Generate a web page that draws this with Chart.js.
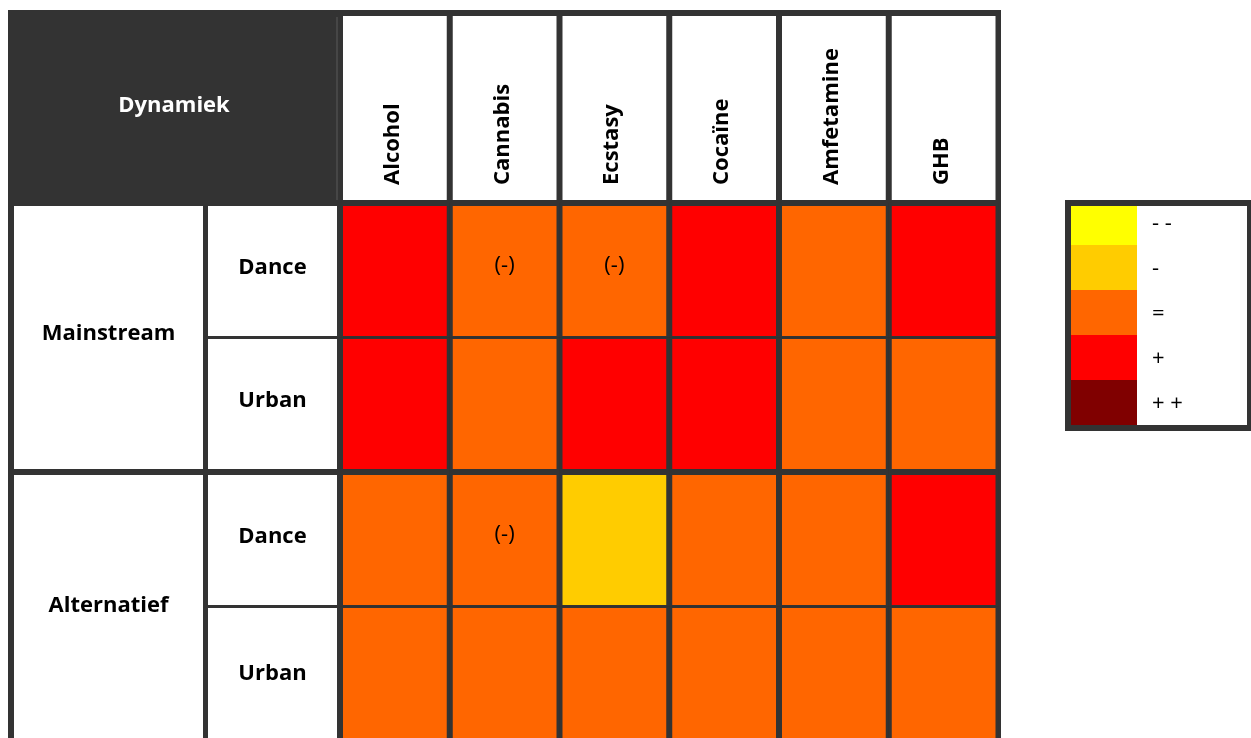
<!DOCTYPE html>
<html>
<head>
<meta charset="utf-8">
<script src="https://cdn.jsdelivr.net/npm/chart.js@4.4.1/dist/chart.umd.min.js"></script>
<style>
html,body{margin:0;padding:0;background:#fff;overflow:hidden;width:1251px;height:738px}
canvas{display:block}
</style>
</head>
<body>
<canvas id="c" width="1251" height="745"></canvas>
<script>
// ---- data ----
const title = 'Dynamiek';
const drugs = ['Alcohol', 'Cannabis', 'Ecstasy', 'Cocaïne', 'Amfetamine', 'GHB'];
const groups = ['Mainstream', 'Alternatief'];
const scenes = ['Dance', 'Urban'];
const levelLabels = ['- -', '-', '=', '+', '+ +'];
const levelColors = ['#FFFF00', '#FFCC00', '#FF6600', '#FF0000', '#800000'];
// level index per drug: 0 = '- -', 1 = '-', 2 = '=', 3 = '+', 4 = '+ +'
const mainstreamDance = [3, 2, 2, 3, 2, 3];
const mainstreamUrban = [3, 2, 3, 3, 2, 2];
const alternatiefDance = [2, 2, 1, 2, 2, 3];
const alternatiefUrban = [2, 2, 2, 2, 2, 2];
const mainstreamDanceNotes = ['', '(-)', '(-)', '', '', ''];
const mainstreamUrbanNotes = ['', '', '', '', '', ''];
const alternatiefDanceNotes = ['', '(-)', '', '', '', ''];
const alternatiefUrbanNotes = ['', '', '', '', '', ''];

const rows = [
  {group: 0, scene: 0, levels: mainstreamDance, notes: mainstreamDanceNotes},
  {group: 0, scene: 1, levels: mainstreamUrban, notes: mainstreamUrbanNotes},
  {group: 1, scene: 0, levels: alternatiefDance, notes: alternatiefDanceNotes},
  {group: 1, scene: 1, levels: alternatiefUrban, notes: alternatiefUrbanNotes}
];

const DARK = '#333333';
const FONT = '"Open Sans", "Noto Sans", sans-serif';

const datasets = rows.map((r, i) => ({
  label: groups[r.group] + ' ' + scenes[r.scene],
  data: drugs.map(() => 1),
  backgroundColor: r.levels.map(l => levelColors[l]),
  borderColor: DARK,
  borderWidth: {
    top: r.scene === 0 ? 3 : 1.5,
    bottom: r.scene === 0 ? 1.5 : (i === rows.length - 1 ? 0 : 3),
    left: 3,
    right: 3
  },
  borderSkipped: false,
  inflateAmount: 0,
  barPercentage: 1,
  categoryPercentage: 1
}));

const tablePlugin = {
  id: 'table',
  beforeDraw(chart) {
    const ctx = chart.ctx;
    const area = chart.chartArea;
    const xs = chart.scales.x, ys = chart.scales.y;
    const band = (area.right - area.left) / drugs.length;
    const H = chart.height;
    ctx.save();
    ctx.fillStyle = DARK;
    ctx.fillRect(8, 10, area.right + 2.5 - 8, H - 10);
    // column header cells
    ctx.fillStyle = '#fff';
    drugs.forEach((d, i) => {
      const cx = xs.getPixelForValue(i);
      ctx.fillRect(cx - band / 2 + 3, 16, band - 6, area.top - 3 - 16);
    });
    // thin separator in the title block
    ctx.fillStyle = '#5a5a5a';
    ctx.fillRect(area.left - 3.5, 17, 1, area.top - 20);
    // title
    ctx.fillStyle = '#fff';
    ctx.font = 'bold 22px ' + FONT;
    ctx.textAlign = 'center';
    ctx.textBaseline = 'alphabetic';
    ctx.fillText(title, (8 + area.left) / 2, 112);
    // row header cells
    groups.forEach((g, gi) => {
      const top = ys.getPixelForValue(gi * 2) + 3;
      const bottom = gi === groups.length - 1 ? H : ys.getPixelForValue(gi * 2 + 2) - 3;
      ctx.fillStyle = '#fff';
      ctx.fillRect(14, top, 203 - 14, bottom - top);
      ctx.fillStyle = '#000';
      ctx.font = 'bold 22px ' + FONT;
      ctx.fillText(g, (14 + 203) / 2, (top + bottom) / 2 + 2);
    });
    rows.forEach((r, i) => {
      const top = ys.getPixelForValue(i) + (r.scene === 0 ? 3 : 1.5);
      const bottom = i === rows.length - 1 ? H : ys.getPixelForValue(i + 1) - (r.scene === 0 ? 1.5 : 3);
      ctx.fillStyle = '#fff';
      ctx.fillRect(208, top, 337 - 208, bottom - top);
      ctx.fillStyle = '#000';
      ctx.font = 'bold 22px ' + FONT;
      ctx.fillText(scenes[r.scene], (208 + 337) / 2, (top + bottom) / 2 + 3);
    });
    ctx.restore();
  },
  afterDatasetsDraw(chart) {
    const ctx = chart.ctx;
    ctx.save();
    ctx.fillStyle = '#000';
    ctx.font = '22px ' + FONT;
    ctx.textAlign = 'center';
    ctx.textBaseline = 'alphabetic';
    rows.forEach((r, i) => {
      const meta = chart.getDatasetMeta(i);
      r.notes.forEach((n, j) => {
        if (!n) return;
        const el = meta.data[j];
        ctx.fillText(n, el.x, (el.y + el.base) / 2 + 2);
      });
    });
    // legend
    const lx = 1065, ly = 200;
    ctx.fillStyle = DARK;
    ctx.fillRect(lx, ly, 1251 - lx + 4, 231);
    ctx.fillStyle = '#fff';
    ctx.fillRect(lx + 6, ly + 6, 1247 - lx - 6, 219);
    levelLabels.forEach((lab, k) => {
      const t = ly + 45 * k;
      const top = Math.max(t, ly + 6);
      ctx.fillStyle = levelColors[k];
      ctx.fillRect(lx + 6, top, 66, t + 45 - top);
      ctx.fillStyle = '#000';
      ctx.font = '22px ' + FONT;
      ctx.textAlign = 'left';
      ctx.textBaseline = 'middle';
      ctx.fillText(lab, 1152, t + 24);
    });
    ctx.restore();
  }
};

new Chart(document.getElementById('c'), {
  type: 'bar',
  data: {labels: drugs, datasets},
  plugins: [tablePlugin],
  options: {
    responsive: false,
    animation: false,
    events: [],
    layout: {padding: {left: 340, right: 252.5, top: 16, bottom: 4}},
    plugins: {legend: {display: false}, tooltip: {enabled: false}},
    scales: {
      x: {
        type: 'category',
        position: 'top',
        stacked: true,
        grid: {display: false, drawTicks: false},
        border: {display: false},
        ticks: {
          autoSkip: false,
          minRotation: 90,
          maxRotation: 90,
          padding: 18,
          color: '#000',
          font: {family: FONT, weight: 'bold', size: 22, lineHeight: 0.1}
        },
        afterFit(s) { s.height = 187; }
      },
      y: {
        stacked: true,
        min: 0,
        max: 4,
        reverse: true,
        display: false
      }
    }
  }
});
</script>
</body>
</html>
